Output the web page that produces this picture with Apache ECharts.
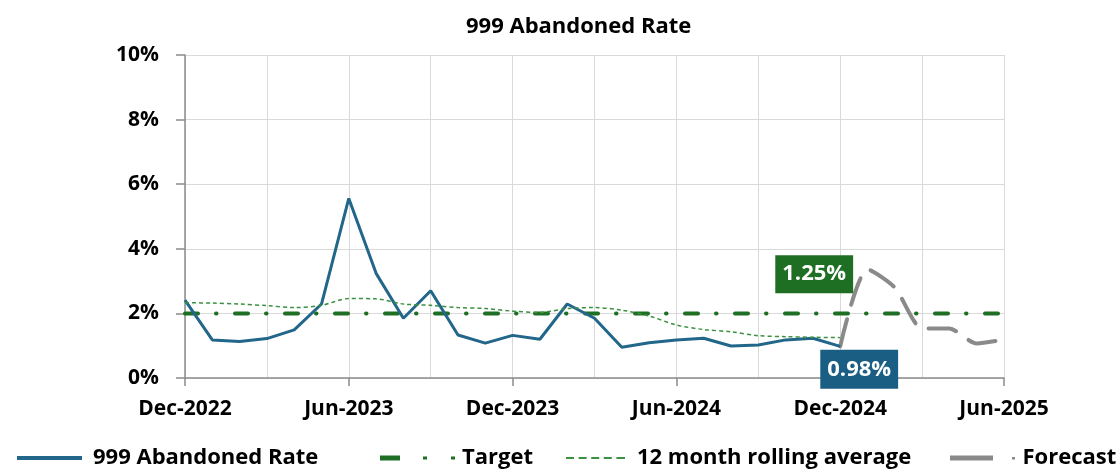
<!DOCTYPE html>
<html>
<head>
<meta charset="utf-8">
<script src="https://cdn.jsdelivr.net/npm/echarts@6/dist/echarts.min.js"></script>
<style>
html,body{margin:0;padding:0;background:#fff;}
#chart{width:1117px;height:469px;}
</style>
</head>
<body>
<div id="chart"></div>
<script>
var months = ['Dec-2022','Jan-2023','Feb-2023','Mar-2023','Apr-2023','May-2023','Jun-2023','Jul-2023','Aug-2023','Sep-2023','Oct-2023','Nov-2023',
  'Dec-2023','Jan-2024','Feb-2024','Mar-2024','Apr-2024','May-2024','Jun-2024','Jul-2024','Aug-2024','Sep-2024','Oct-2024','Nov-2024',
  'Dec-2024','Jan-2025','Feb-2025','Mar-2025','Apr-2025','May-2025','Jun-2025'];
var abandonedRate = [2.41,1.18,1.13,1.22,1.49,2.29,5.56,3.24,1.85,2.70,1.33,1.08,1.32,1.20,2.29,1.85,0.95,1.09,1.18,1.23,0.99,1.02,1.18,1.23,0.98];
var rollingAverage = [2.33,2.32,2.29,2.24,2.18,2.25,2.46,2.45,2.29,2.25,2.18,2.15,2.07,2.03,2.15,2.18,2.10,1.92,1.64,1.50,1.43,1.31,1.28,1.26,1.25];
var targetValue = 2;
var forecast = [null,null,null,null,null,null,null,null,null,null,null,null,null,null,null,null,null,null,null,null,null,null,null,null,
  0.98,3.36,2.80,1.54,1.53,1.07,1.19];
var yTicks = [0,2,4,6,8,10];

var FONT = 'Open Sans';
var BLUE = '#22668a';
var GREEN = '#1e6e23';
var LGREEN = '#3a9140';
var GREY = '#8a8a8a';

var targetData = months.map(function(){ return targetValue; });
var last = abandonedRate.length - 1;

function valueLabel(p){ return Number(p.value).toFixed(2) + '%'; }

function legendAt(left, name, width, height, icon, gap, color){
  return {
    left: left, top: 445, padding: 0, itemWidth: width, itemHeight: height,
    selectedMode: false,
    data: [{name: name, icon: icon, itemStyle: {color: color}}],
    textStyle: {fontFamily: FONT, fontWeight: 'bold', fontSize: 22, color: '#000', lineHeight: 26, padding: [0,0,0,gap]}
  };
}

var chart = echarts.init(document.getElementById('chart'), null, {renderer: 'canvas'});
chart.setOption({
  animation: false,
  backgroundColor: '#fff',
  title: {
    text: '999 Abandoned Rate', left: 466, top: 16, padding: 0,
    textStyle: {fontFamily: FONT, fontWeight: 'bold', fontSize: 22, color: '#000'}
  },
  legend: [
    legendAt(17, '999 Abandoned Rate', 65, 4, 'path://M0,0H65V4H0Z', 6, BLUE),
    legendAt(380, 'Target', 75, 5, 'path://M0,0H20V5H0Z M43,1H47V4H43Z M71,1H75V4H71Z', 2, GREEN),
    legendAt(566, '12 month rolling average', 59, 2, 'path://M0,0H8V2H0Z M12.6,0H20.6V2H12.6Z M25.2,0H33.2V2H25.2Z M37.8,0H45.8V2H37.8Z M50.4,0H59V2H50.4Z', 7, LGREEN),
    legendAt(950, 'Forecast', 66, 5, 'path://M0,0H43V5H0Z M62,1.5H65V4H62Z', 2, GREY)
  ],
  grid: {left: 185, right: 113, top: 55, bottom: 91, containLabel: false},
  xAxis: {
    type: 'category', data: months, boundaryGap: false,
    axisLine: {show: true, lineStyle: {color: '#8c8c8c', width: 1.5}},
    axisTick: {show: true, interval: 5, length: 8, lineStyle: {color: '#8c8c8c', width: 1.5}},
    axisLabel: {interval: 5, margin: 21, fontFamily: FONT, fontWeight: 'bold', fontSize: 21, color: '#000'},
    splitLine: {show: true, interval: 2, lineStyle: {color: '#d9d9d9', width: 1}}
  },
  yAxis: {
    type: 'value', min: yTicks[0], max: yTicks[yTicks.length-1], interval: 2,
    axisLine: {show: true, lineStyle: {color: '#8c8c8c', width: 1.5}},
    axisTick: {show: true, length: 9, lineStyle: {color: '#8c8c8c', width: 1.5}},
    axisLabel: {margin: 26, formatter: '{value}%', fontFamily: FONT, fontWeight: 'bold', fontSize: 21, color: '#000'},
    splitLine: {show: true, lineStyle: {color: '#d9d9d9', width: 1}}
  },
  series: [
    {name: '999 Abandoned Rate', type: 'line', data: abandonedRate, color: BLUE, symbol: 'none', z: 4,
      lineStyle: {color: BLUE, width: 3},
      markPoint: {
        symbol: 'rect', symbolSize: 1, itemStyle: {color: 'rgba(0,0,0,0)'}, z: 10,
        data: [{coord: [last, abandonedRate[last]], value: abandonedRate[last]}],
        label: {show: true, position: 'bottom', distance: 3, offset: [19,0], formatter: valueLabel,
          backgroundColor: '#1a5f83', color: '#fff', fontFamily: FONT, fontWeight: 'bold', fontSize: 22,
          padding: [7,7,6,7], lineHeight: 26}
      }},
    {name: 'Target', type: 'line', data: targetData, color: GREEN, symbol: 'none', z: 3,
      lineStyle: {color: GREEN, width: 4, type: [13,18,0.5,18.5], cap: 'round'}},
    {name: '12 month rolling average', type: 'line', data: rollingAverage, color: LGREEN, symbol: 'none', smooth: 0.3, z: 5,
      lineStyle: {color: LGREEN, width: 1.5, type: [4,3]},
      markPoint: {
        symbol: 'rect', symbolSize: 1, itemStyle: {color: 'rgba(0,0,0,0)'}, z: 10,
        data: [{coord: [last, rollingAverage[last]], value: rollingAverage[last]}],
        label: {show: true, position: 'top', distance: 44, offset: [-26,0], formatter: valueLabel,
          backgroundColor: GREEN, color: '#fff', fontFamily: FONT, fontWeight: 'bold', fontSize: 22,
          padding: [6,7,6,7], lineHeight: 26}
      }},
    {name: 'Forecast', type: 'line', data: forecast, color: GREY, symbol: 'none', smooth: 0.25, z: 2,
      lineStyle: {color: GREY, width: 4, type: [28,15], cap: 'round'}}
  ]
});
</script>
</body>
</html>
